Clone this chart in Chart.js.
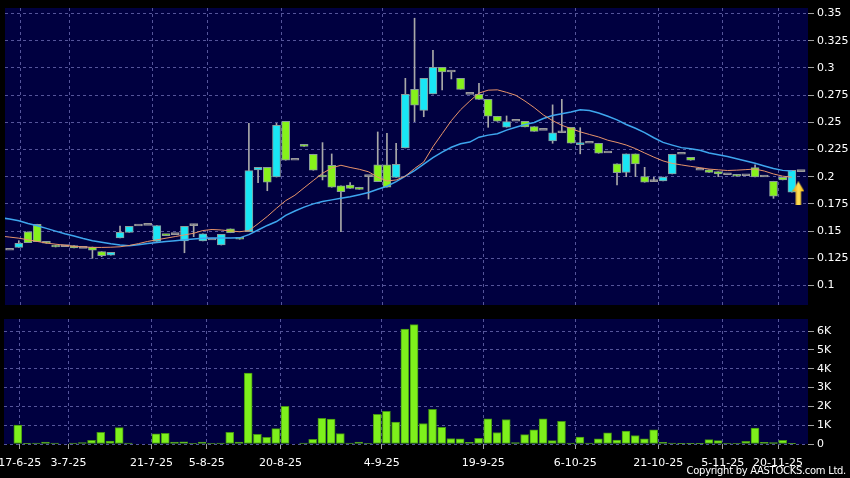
<!DOCTYPE html>
<html>
<head>
<meta charset="utf-8">
<script src="https://cdn.jsdelivr.net/npm/chart.js@4.4.1/dist/chart.umd.min.js"></script>
<style>
  html, body { margin: 0; padding: 0; background: #000; }
  #wrap { position: relative; width: 850px; height: 478px; overflow: hidden; background: #000; }
  #price { position: absolute; left: 0; top: 0; }
  #vol { position: absolute; left: 0; top: 310px; }
  #copy { position: absolute; right: 4px; top: 465px; color: #fff; font: 10px "DejaVu Sans"; letter-spacing: -0.3px; }
</style>
</head>
<body>
<div id="wrap">
  <canvas id="price" width="850" height="310"></canvas>
  <canvas id="vol" width="850" height="168"></canvas>
  <div id="copy">Copyright by AASTOCKS.com Ltd.</div>
</div>
<script>
// daily candles, first entry is trading day index -1 (just off the left edge)
const firstIdx = -1;
const openP = [0.1324, 0.1351, 0.1494, 0.1563, 0.1406, 0.1372, 0.1357, 0.1366, 0.1342, 0.1354,
  0.1311, 0.1278, 0.1437, 0.1489, 0.1547, 0.1553, 0.1406, 0.1465, 0.1467, 0.1409,
  0.155, 0.1409, 0.1418, 0.1372, 0.152, 0.1437, 0.1494, 0.2062, 0.2086, 0.1997,
  0.2509, 0.2151, 0.2298, 0.2206, 0.2013, 0.2105, 0.1915, 0.1924, 0.1903, 0.2,
  0.2108, 0.2108, 0.1994, 0.2264, 0.2803, 0.261, 0.276, 0.3005, 0.2962, 0.2904,
  0.2757, 0.2757, 0.2711, 0.2555, 0.2454, 0.2509, 0.2509, 0.246, 0.2426, 0.2328,
  0.2404, 0.2454, 0.2295, 0.2307, 0.2307, 0.2218, 0.2117, 0.204, 0.2209, 0.2,
  0.1954, 0.196, 0.2025, 0.2206, 0.2178, 0.2059, 0.2064, 0.2046, 0.2018, 0.2022,
  0.2009, 0.2083, 0.1997, 0.1958, 0.1994, 0.1857, 0.2046];
const highP = [0.1324, 0.1412, 0.1494, 0.1563, 0.1406, 0.1372, 0.1357, 0.1366, 0.1342, 0.1354,
  0.1311, 0.1305, 0.1547, 0.1544, 0.1547, 0.1553, 0.155, 0.1465, 0.1467, 0.1544,
  0.1563, 0.1476, 0.1418, 0.147, 0.152, 0.1437, 0.249, 0.2086, 0.2086, 0.249,
  0.2509, 0.2151, 0.2298, 0.2206, 0.2313, 0.2209, 0.1915, 0.1945, 0.1903, 0.2,
  0.2411, 0.2399, 0.2307, 0.2904, 0.3456, 0.2904, 0.3162, 0.3005, 0.2962, 0.2904,
  0.2757, 0.2858, 0.2711, 0.2555, 0.2558, 0.2509, 0.2509, 0.246, 0.2426, 0.266,
  0.2711, 0.2454, 0.245, 0.2307, 0.2307, 0.2218, 0.2117, 0.2209, 0.2209, 0.2086,
  0.1994, 0.1997, 0.2206, 0.2206, 0.2178, 0.2059, 0.2064, 0.2046, 0.2018, 0.2022,
  0.2009, 0.2108, 0.1997, 0.1958, 0.1994, 0.2059, 0.2046];
const lowP = [0.1324, 0.1351, 0.1393, 0.1403, 0.1388, 0.1354, 0.1357, 0.1345, 0.1342, 0.125,
  0.1265, 0.1278, 0.1437, 0.1489, 0.1547, 0.1553, 0.1406, 0.1458, 0.1467, 0.1301,
  0.1449, 0.1409, 0.1418, 0.1372, 0.1485, 0.1425, 0.1494, 0.1945, 0.1871, 0.1997,
  0.2151, 0.2151, 0.2279, 0.2059, 0.197, 0.1903, 0.1494, 0.1893, 0.1884, 0.1795,
  0.1954, 0.1903, 0.1994, 0.2264, 0.2506, 0.2551, 0.276, 0.2797, 0.2898, 0.2803,
  0.2757, 0.2711, 0.2454, 0.2509, 0.2454, 0.2509, 0.2457, 0.2417, 0.2426, 0.2307,
  0.2404, 0.2307, 0.221, 0.2307, 0.2215, 0.2218, 0.1924, 0.2, 0.2, 0.1949,
  0.1954, 0.196, 0.2025, 0.2206, 0.2151, 0.2059, 0.204, 0.2, 0.2018, 0.2004,
  0.2009, 0.1997, 0.1997, 0.1801, 0.197, 0.1857, 0.2046];
const closeP = [0.1324, 0.1388, 0.1393, 0.1403, 0.1388, 0.1354, 0.1357, 0.1345, 0.1342, 0.1324,
  0.1274, 0.1305, 0.1489, 0.1544, 0.1547, 0.1553, 0.155, 0.1458, 0.1467, 0.1544,
  0.155, 0.1476, 0.1418, 0.147, 0.1485, 0.1425, 0.2055, 0.2086, 0.1949, 0.2472,
  0.2151, 0.2151, 0.2279, 0.2059, 0.1997, 0.1903, 0.1862, 0.1893, 0.1884, 0.2,
  0.1954, 0.1903, 0.2114, 0.2757, 0.2656, 0.2904, 0.3005, 0.2962, 0.2962, 0.2803,
  0.2757, 0.2711, 0.2555, 0.2509, 0.2506, 0.2509, 0.2457, 0.2417, 0.2426, 0.2404,
  0.2404, 0.2307, 0.2312, 0.2307, 0.2215, 0.2218, 0.2037, 0.2209, 0.2117, 0.1949,
  0.1954, 0.1997, 0.2206, 0.2206, 0.2151, 0.2059, 0.204, 0.2025, 0.2018, 0.2004,
  0.2009, 0.1997, 0.1997, 0.182, 0.197, 0.2059, 0.2046];
const volume = [0, 1000, 20, 50, 100, 50, 0, 50, 80, 200,
  620, 150, 870, 50, 0, 0, 540, 570, 100, 120,
  30, 100, 30, 50, 620, 100, 3770, 520, 360, 820,
  2000, 0, 50, 250, 1370, 1320, 550, 50, 100, 30,
  1570, 1730, 1160, 6100, 6340, 1090, 1840, 880, 290, 270,
  90, 300, 1340, 610, 1300, 70, 500, 750, 1340, 180,
  1200, 50, 370, 50, 270, 590, 210, 680, 450, 270,
  750, 90, 50, 20, 20, 20, 230, 180, 30, 30,
  140, 840, 90, 70, 200, 10, 0];

// moving averages, first entry is index -2
const maFirst = -2;
const ma10 = [0.1455, 0.1445, 0.1435, 0.142, 0.1405, 0.139, 0.138, 0.137, 0.136, 0.1355,
  0.135, 0.135, 0.1352, 0.1356, 0.1368, 0.1385, 0.1405, 0.142, 0.1435, 0.145,
  0.1465, 0.148, 0.1505, 0.1515, 0.151, 0.1502, 0.1494, 0.1505, 0.1568, 0.1635,
  0.171, 0.178, 0.183, 0.1898, 0.1965, 0.2031, 0.208, 0.2105, 0.2085, 0.2068,
  0.2045, 0.1995, 0.196, 0.197, 0.2005, 0.2075, 0.2135, 0.2275, 0.2395, 0.2515,
  0.2615, 0.2695, 0.2768, 0.2795, 0.2798, 0.2775, 0.2748, 0.2695, 0.2635, 0.2567,
  0.2515, 0.2472, 0.2442, 0.2412, 0.2388, 0.2365, 0.2335, 0.2315, 0.2291, 0.2258,
  0.2218, 0.218, 0.2145, 0.2122, 0.2108, 0.2095, 0.2083, 0.207, 0.2063, 0.2057,
  0.206, 0.2065, 0.207, 0.2052, 0.2025, 0.2005, 0.1995];
const ma20 = [0.1622, 0.1612, 0.1595, 0.157, 0.155, 0.1525, 0.15, 0.1475, 0.1455, 0.1432,
  0.1412, 0.1398, 0.1383, 0.1373, 0.1366, 0.1375, 0.1385, 0.1396, 0.1405, 0.1412,
  0.142, 0.1428, 0.1434, 0.1437, 0.1437, 0.1437, 0.1438, 0.1468, 0.151, 0.1552,
  0.1588, 0.1645, 0.1685, 0.172, 0.175, 0.1772, 0.1787, 0.1802, 0.1815, 0.1835,
  0.1855, 0.1885, 0.1912, 0.1955, 0.2005, 0.2055, 0.2115, 0.2175, 0.2225, 0.227,
  0.2303, 0.2318, 0.2363, 0.2382, 0.2395, 0.2428, 0.2455, 0.248, 0.2498, 0.2535,
  0.2562, 0.2578, 0.2595, 0.2615, 0.2608, 0.2585, 0.2555, 0.2522, 0.248, 0.2445,
  0.2405, 0.2358, 0.2315, 0.229, 0.2267, 0.2256, 0.2243, 0.2218, 0.2202, 0.2185,
  0.2165, 0.2145, 0.2123, 0.2098, 0.2075, 0.2058, 0.2052];

const tickIndex = [0.2, 5.5, 14.5, 20.5, 28.5, 39.5, 50.5, 60.5, 69.5, 76.5, 82.5];
const tickDates = ["17-6-25", "3-7-25", "21-7-25", "5-8-25", "20-8-25", "4-9-25",
  "19-9-25", "6-10-25", "21-10-25", "5-11-25", "20-11-25"];
const priceTicks = [0.1, 0.125, 0.15, 0.175, 0.2, 0.225, 0.25, 0.275, 0.3, 0.325, 0.35];
const volTicks = [0, 1000, 2000, 3000, 4000, 5000, 6000];
const arrowMark = [{ x: 84.7, y: 0.1847 }];

const X_MIN = -1.5, X_MAX = 85.75;
const UP = '#19e6f5', DOWN = '#86f21a', FLAT = '#9a9a9a';
const FONT = { family: 'DejaVu Sans', size: 11 };

const idx = openP.map((_, k) => k + firstIdx);
const bodies = idx.map((i, k) => ({ x: i, y: [openP[k], closeP[k]] }));
const bodyColor = idx.map((_, k) => closeP[k] > openP[k] ? UP : closeP[k] < openP[k] ? DOWN : FLAT);
const bodyBorder = bodyColor.map(c => c === FLAT ? FLAT : '#8a9c9c');
const wicks = idx.map((i, k) => ({ x: i, y: [lowP[k], highP[k]] })).filter(d => d.y[1] > d.y[0]);
const vols = idx.map((i, k) => ({ x: i, y: volume[k] }));
const toPts = arr => arr.map((v, k) => ({ x: k + maFirst, y: v }));

function arrowIcon() {
  const c = document.createElement('canvas');
  c.width = 12; c.height = 24;
  const g = c.getContext('2d');
  const grad = g.createLinearGradient(0, 0, 12, 0);
  grad.addColorStop(0, '#e38f00');
  grad.addColorStop(0.5, '#ffe25a');
  grad.addColorStop(1, '#f2b400');
  g.fillStyle = grad;
  g.beginPath();
  g.moveTo(6, 0); g.lineTo(12, 10); g.lineTo(8.7, 10); g.lineTo(8.7, 24);
  g.lineTo(3.3, 24); g.lineTo(3.3, 10); g.lineTo(0, 10); g.closePath();
  g.fill();
  return c;
}

const navyArea = {
  id: 'navyArea',
  beforeDraw(chart) {
    const { ctx, chartArea: a } = chart;
    ctx.save();
    ctx.fillStyle = '#000040';
    ctx.fillRect(a.left, a.top, a.width, a.height);
    ctx.restore();
  }
};

const grid = { color: '#55559a', lineWidth: 1, tickColor: '#a0a0a0', tickBorderDash: [], tickLength: 6, offset: false };
const border = { display: false, dash: [3, 3] };

new Chart(document.getElementById('price'), {
  type: 'bar',
  data: {
    datasets: [
      { type: 'line', data: toPts(ma10), borderColor: '#e8946a', borderWidth: 1, pointRadius: 0, order: 2 },
      { type: 'line', data: toPts(ma20), borderColor: '#3ea6ee', borderWidth: 1.5, pointRadius: 0, order: 3 },
      { data: bodies, backgroundColor: bodyColor, borderColor: bodyBorder, borderWidth: 1, borderSkipped: false,
        barThickness: 8, minBarLength: 2, grouped: false, order: 4 },
      { data: wicks, backgroundColor: '#a8a8a8', barThickness: 1, grouped: false, order: 5 },
      { type: 'scatter', data: arrowMark, pointStyle: arrowIcon(), order: 1 }
    ]
  },
  options: {
    responsive: false,
    animation: false,
    events: [],
    layout: { padding: { left: 4, top: 8, bottom: 5, right: 0 } },
    plugins: { legend: { display: false }, tooltip: { enabled: false } },
    scales: {
      x: {
        type: 'linear', min: X_MIN, max: X_MAX, offset: false,
        afterBuildTicks: ax => { ax.ticks = tickIndex.map(v => ({ value: v })); },
        ticks: { display: false },
        grid: { ...grid, drawTicks: false },
        border: border,
        afterFit: s => { s.height = 0; s.paddingLeft = 0; s.paddingRight = 0; }
      },
      y: {
        position: 'right', min: 0.0821, max: 0.355,
        afterBuildTicks: ax => { ax.ticks = priceTicks.map(v => ({ value: v })); },
        ticks: { color: '#fff', font: FONT, padding: 3, callback: v => String(v) },
        grid: grid,
        border: border,
        afterFit: s => { s.width = 42; s.paddingTop = 0; s.paddingBottom = 0; }
      }
    }
  },
  plugins: [navyArea]
});

new Chart(document.getElementById('vol'), {
  type: 'bar',
  data: {
    datasets: [
      { data: vols, backgroundColor: '#7ef01c', borderColor: '#449412', borderWidth: 1, borderSkipped: false,
        barThickness: 8, grouped: false }
    ]
  },
  options: {
    responsive: false,
    animation: false,
    events: [],
    layout: { padding: { left: 4, top: 9, bottom: 0, right: 0 } },
    plugins: { legend: { display: false }, tooltip: { enabled: false } },
    scales: {
      x: {
        type: 'linear', min: X_MIN, max: X_MAX, offset: false,
        afterBuildTicks: ax => { ax.ticks = tickIndex.map(v => ({ value: v })); },
        ticks: { color: '#fff', font: FONT, padding: 8, maxRotation: 0, autoSkip: false,
          callback: (v, k) => tickDates[k] },
        grid: { ...grid, tickLength: 5 },
        border: border,
        afterFit: s => { s.height = 34; s.paddingLeft = 0; s.paddingRight = 0; }
      },
      y: {
        position: 'right', min: 0, max: 6640,
        afterBuildTicks: ax => { ax.ticks = volTicks.map(v => ({ value: v })); },
        ticks: { color: '#fff', font: FONT, padding: 3, callback: v => v === 0 ? '0' : (v / 1000) + 'K' },
        grid: grid,
        border: border,
        afterFit: s => { s.width = 42; s.paddingTop = 0; s.paddingBottom = 0; }
      }
    }
  },
  plugins: [navyArea]
});
</script>
</body>
</html>
